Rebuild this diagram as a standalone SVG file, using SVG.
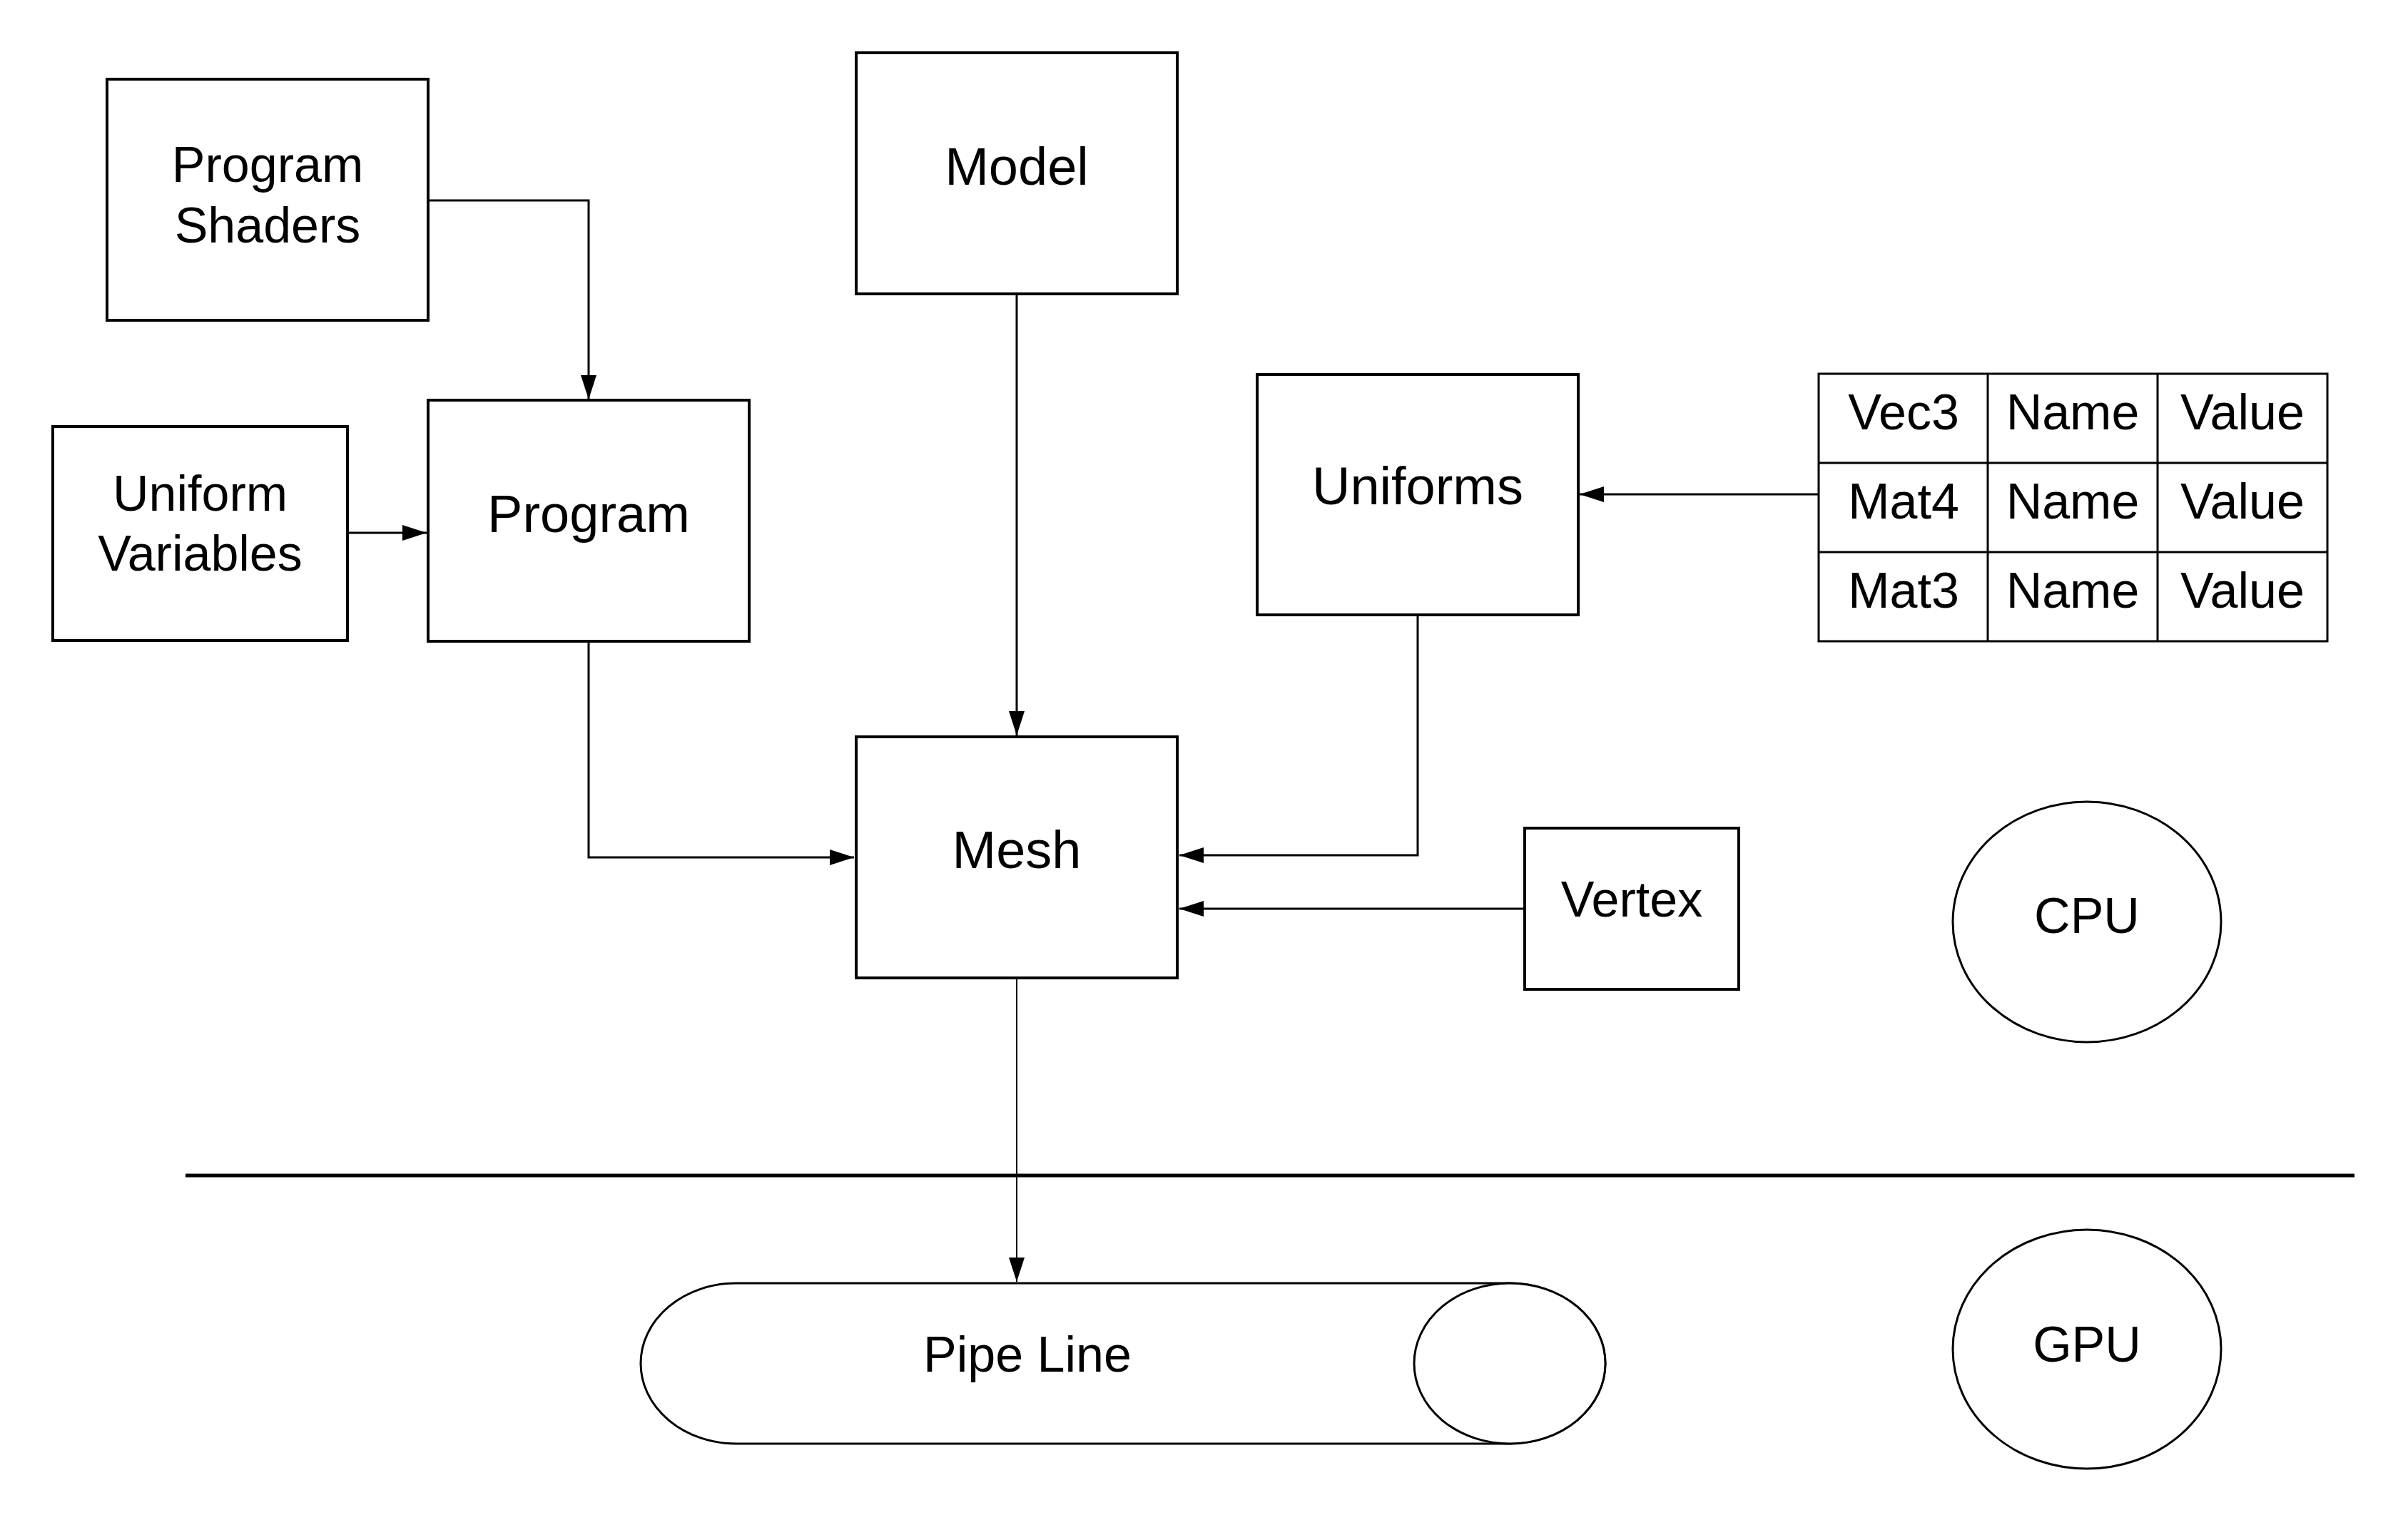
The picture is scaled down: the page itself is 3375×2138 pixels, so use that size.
<svg xmlns="http://www.w3.org/2000/svg" width="3375" height="2138" viewBox="0 0 3375 2138">
<style>
.box{fill:#fff;stroke:#000;stroke-width:4}
.thin{fill:#fff;stroke:#000;stroke-width:3}
.lbl{font-family:"Liberation Sans",Arial,sans-serif;font-size:70px;fill:#000;text-anchor:middle}
.big{font-size:74px}
.con{fill:none;stroke:#000;stroke-width:3}
</style>
<defs>
<marker id="arr" markerUnits="userSpaceOnUse" markerWidth="36" markerHeight="24" refX="34" refY="11" orient="auto" viewBox="0 0 36 24">
<path d="M0,0 L34,11 L0,22 z" fill="#000"/>
</marker>
</defs>
<rect width="3375" height="2138" fill="#fff"/>

<g id="connectors">
<path class="con" d="M600,281 H825 V560" marker-end="url(#arr)"/>
<path class="con" d="M487,747 H598" marker-end="url(#arr)"/>
<path class="con" d="M1425,412 V1031" marker-end="url(#arr)"/>
<path class="con" d="M825,899 V1202 H1197" marker-end="url(#arr)"/>
<path class="con" d="M1987,862 V1199 H1653" marker-end="url(#arr)"/>
<path class="con" d="M2137,1274 H1653" marker-end="url(#arr)"/>
<path class="con" d="M2549,693 H2214" marker-end="url(#arr)"/>
<path class="con" style="stroke-width:2" d="M1425,1371 V1797" marker-end="url(#arr)"/>
</g>

<g id="divider">
<line x1="260" y1="1648" x2="3300" y2="1648" stroke="#000" stroke-width="5"/>
</g>

<g id="program-shaders">
<rect class="box" x="150" y="111" width="450" height="338"/>
<text class="lbl" x="375" y="255">Program</text>
<text class="lbl" x="375" y="340">Shaders</text>
</g>

<g id="uniform-variables">
<rect class="box" x="74" y="598" width="413" height="300"/>
<text class="lbl" x="280.5" y="716">Uniform</text>
<text class="lbl" x="280.5" y="800">Variables</text>
</g>

<g id="program">
<rect class="box" x="600" y="561" width="450" height="338"/>
<text class="lbl big" x="825" y="746">Program</text>
</g>

<g id="model">
<rect class="box" x="1200" y="74" width="450" height="338"/>
<text class="lbl big" x="1425" y="259">Model</text>
</g>

<g id="mesh">
<rect class="box" x="1200" y="1033" width="450" height="338"/>
<text class="lbl big" x="1425" y="1217">Mesh</text>
</g>

<g id="uniforms">
<rect class="box" x="1762" y="525" width="450" height="337"/>
<text class="lbl big" x="1987" y="707">Uniforms</text>
</g>

<g id="uniform-table">
<rect class="thin" x="2549" y="524" width="713" height="375"/>
<line class="con" x1="2549" y1="649" x2="3262" y2="649"/>
<line class="con" x1="2549" y1="774" x2="3262" y2="774"/>
<line class="con" x1="2786" y1="524" x2="2786" y2="899"/>
<line class="con" x1="3024" y1="524" x2="3024" y2="899"/>
<text class="lbl" x="2668" y="602">Vec3</text>
<text class="lbl" x="2905" y="602">Name</text>
<text class="lbl" x="3143" y="602">Value</text>
<text class="lbl" x="2668" y="727">Mat4</text>
<text class="lbl" x="2905" y="727">Name</text>
<text class="lbl" x="3143" y="727">Value</text>
<text class="lbl" x="2668" y="852">Mat3</text>
<text class="lbl" x="2905" y="852">Name</text>
<text class="lbl" x="3143" y="852">Value</text>
</g>

<g id="vertex">
<rect class="box" x="2137" y="1161" width="300" height="226"/>
<text class="lbl" x="2287" y="1285">Vertex</text>
</g>

<g id="cpu">
<ellipse class="thin" cx="2925" cy="1292.5" rx="188" ry="168.5"/>
<text class="lbl" x="2925" y="1308">CPU</text>
</g>

<g id="gpu">
<ellipse class="thin" cx="2925" cy="1891.5" rx="188" ry="167.5"/>
<text class="lbl" x="2925" y="1909">GPU</text>
</g>

<g id="pipeline">
<path class="thin" d="M1032,1799 H2116 A134,112.5 0 0 1 2116,2024 H1032 A134,112.5 0 0 1 1032,1799 z"/>
<ellipse class="thin" cx="2116" cy="1911.5" rx="134" ry="112.5"/>
<text class="lbl" x="1440" y="1923">Pipe Line</text>
</g>
</svg>
